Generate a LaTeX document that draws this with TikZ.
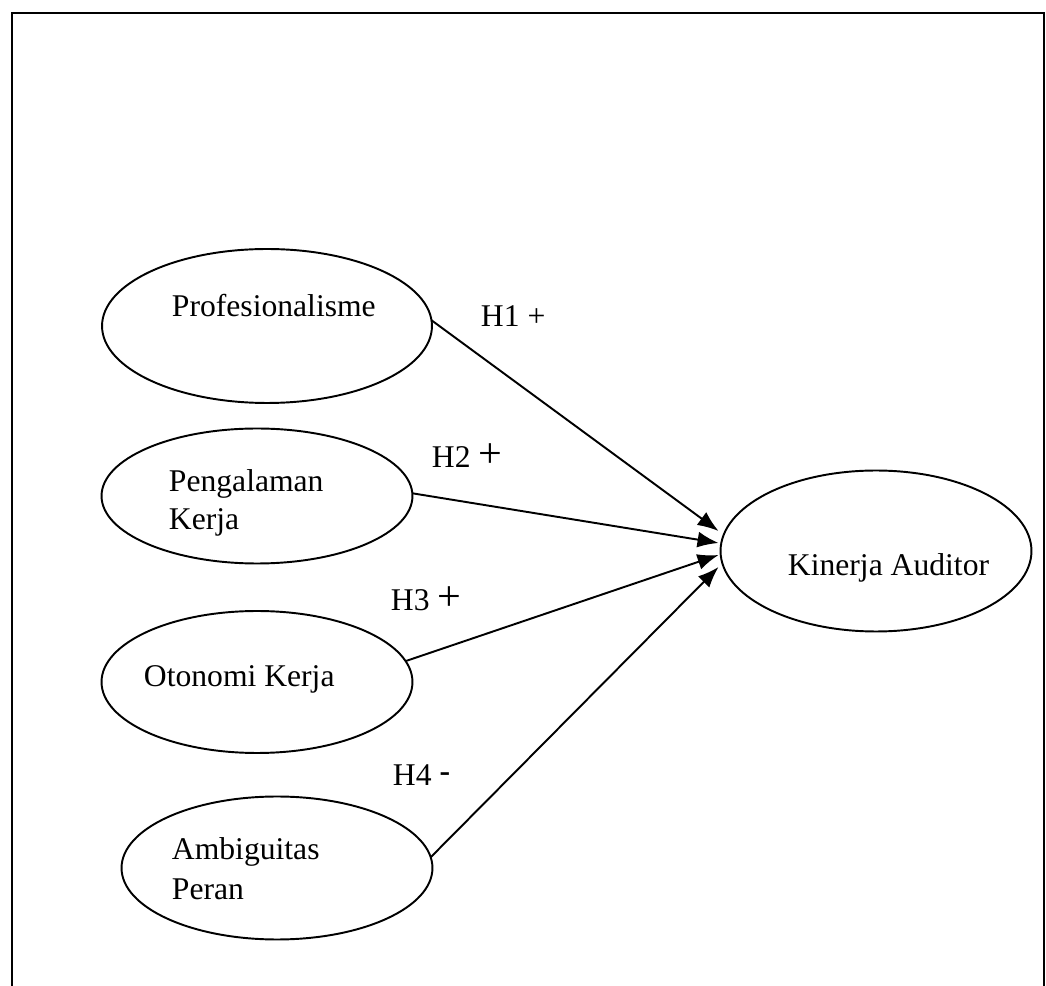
\documentclass[tikz,border=0pt]{standalone}
\usepackage{fontspec}
\setmainfont{Liberation Serif}
\usetikzlibrary{arrows.meta,shapes,calc}

\begin{document}
\begin{tikzpicture}[x=0.02cm,y=-0.02cm,line width=1.1pt,
  >={Latex[length=0.42cm,width=0.32cm]},
  var/.style={draw,ellipse,inner sep=0pt,outer sep=0pt},
  txt/.style={anchor=base west,inner sep=0pt,font=\fontsize{18}{21.6}\selectfont}]
\useasboundingbox (0,0) rectangle (1046,986);
\draw (12,986) -- (12,13) -- (1044,13) -- (1044,986);
% variables
\node[var,minimum width=6.6cm,minimum height=3.08cm] (prof) at (267,326) {};
\node[var,minimum width=6.22cm,minimum height=2.7cm] (peng) at (257,496) {};
\node[var,minimum width=6.22cm,minimum height=2.84cm] (oto) at (257,682) {};
\node[var,minimum width=6.22cm,minimum height=2.86cm] (amb) at (277,868) {};
\node[var,minimum width=6.22cm,minimum height=3.22cm] (kin) at (876,551) {};
\node[txt] (profT) at (171,317) {Profesionalisme};
\node[txt] (pengT) at (168,492) {Pengalaman};
\node[txt] (pengU) at (168,530) {Kerja};
\node[txt] (otoT) at (143,687) {Otonomi Kerja};
\node[txt] (ambT) at (171,860) {Ambiguitas};
\node[txt] (ambU) at (171,900) {Peran};
\node[txt] (kinT) at (787,576) {Kinerja Auditor};
% hipotesis
\node[txt] (h1) at (480,327) {H1 +};
\node[txt] (h2) at (431,468) {H2 {\fontsize{24}{24}\selectfont+}};
\node[txt] (h3) at (390,611) {H3 {\fontsize{24}{24}\selectfont+}};
\node[txt] (h4) at (392,786) {H4 \raisebox{0.15em}{\textbf{-}}};
\draw[->] (prof.2) -- ($(kin.west)+(-2,-20)$);
\draw[->] (peng.1) -- ($(kin.west)+(-2,-8)$);
\draw[->] (oto.8) -- ($(kin.west)+(-2,4)$);
\draw[->] (amb.4) -- ($(kin.west)+(-2,16)$);
\end{tikzpicture}
\end{document}
